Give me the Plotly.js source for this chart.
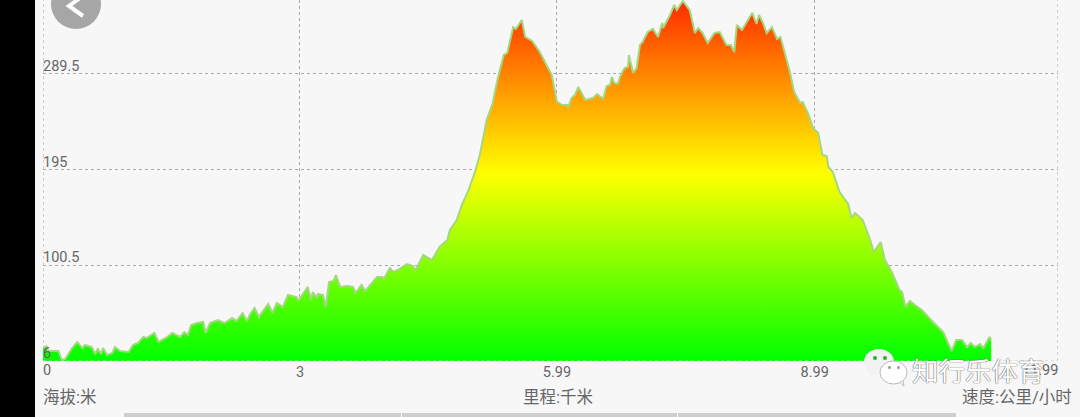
<!DOCTYPE html>
<html><head><meta charset="utf-8">
<script src="https://cdn.plot.ly/plotly-3.0.1.min.js"></script>
<style>html,body{margin:0;padding:0;background:#f7f7f7;overflow:hidden}#c{width:1080px;height:417px}</style>
</head><body><div id="c"></div>
<script>
const distanceKm=[0,0.04,0.06,0.18,0.22,0.26,0.34,0.40,0.46,0.49,0.57,0.61,0.64,0.68,0.70,0.75,0.81,0.84,0.90,1.00,1.05,1.11,1.17,1.21,1.30,1.35,1.45,1.51,1.60,1.65,1.69,1.73,1.80,1.87,1.90,1.95,2.04,2.12,2.21,2.26,2.33,2.38,2.42,2.47,2.52,2.63,2.68,2.73,2.80,2.86,2.96,2.98,3.09,3.13,3.15,3.20,3.21,3.27,3.30,3.34,3.39,3.42,3.47,3.55,3.62,3.65,3.72,3.76,3.90,3.96,3.98,4.05,4.09,4.14,4.25,4.32,4.35,4.44,4.54,4.63,4.72,4.75,4.83,4.89,4.96,5.04,5.10,5.18,5.25,5.31,5.38,5.42,5.49,5.52,5.59,5.63,5.71,5.80,5.86,5.92,5.94,6.00,6.06,6.12,6.13,6.17,6.21,6.25,6.33,6.42,6.47,6.54,6.58,6.62,6.64,6.67,6.71,6.74,6.79,6.83,6.84,6.89,6.93,6.97,7.00,7.06,7.12,7.18,7.23,7.24,7.32,7.37,7.40,7.47,7.55,7.61,7.65,7.70,7.76,7.84,7.90,7.98,8.03,8.07,8.10,8.16,8.22,8.28,8.33,8.36,8.40,8.45,8.51,8.57,8.61,8.66,8.72,8.77,8.84,8.87,8.94,8.99,9.05,9.10,9.15,9.17,9.22,9.30,9.39,9.40,9.44,9.48,9.57,9.65,9.70,9.78,9.83,9.91,10.00,10.03,10.07,10.12,10.18,10.26,10.39,10.51,10.56,10.61,10.66,10.73,10.79,10.83,10.88,10.94,10.98,11.05,11.07];
const elevationM=[18.8,20.8,15.9,15.9,7.0,8.0,18.8,24.8,18.8,21.8,19.8,12.9,17.9,12.9,18.8,11.9,13.9,19.8,15.9,14.9,21.8,23.8,29.7,28.7,33.7,24.8,29.7,33.7,29.7,34.6,31.7,41.6,43.5,44.5,33.7,43.5,46.5,43.5,48.5,45.5,53.4,45.5,52.4,58.3,49.5,62.3,53.4,63.3,59.3,71.2,69.2,65.3,79.1,66.2,74.1,68.2,72.2,71.2,59.3,84.0,85.0,90.9,79.1,80.1,79.1,73.2,81.1,75.1,89.0,89.0,87.0,97.8,93.9,95.9,101.8,99.8,95.9,110.7,105.7,118.6,125.5,135.4,145.2,160.1,172.9,191.7,209.4,244.0,260.8,285.5,308.2,310.2,335.8,333.9,342.7,326.0,322.0,311.1,301.3,290.4,288.4,261.8,258.8,258.8,255.8,265.7,268.7,276.6,263.7,265.7,269.7,264.7,277.6,278.6,286.5,280.5,279.5,287.4,295.3,296.3,308.2,290.4,295.3,318.1,321.0,330.9,333.9,326.0,339.8,334.8,347.7,357.6,352.6,361.5,352.6,329.9,334.8,329.9,320.0,329.9,330.9,318.1,318.1,311.1,337.8,332.9,340.8,349.7,338.8,347.7,340.8,329.9,335.8,324.0,326.0,311.1,291.4,271.6,260.8,261.8,248.9,236.1,231.2,209.4,208.4,197.6,192.6,172.9,162.0,161.0,147.2,152.2,145.2,127.5,113.6,123.5,105.7,93.9,76.1,74.1,59.3,65.3,61.3,56.4,44.5,34.6,24.8,15.9,26.7,26.7,19.8,23.8,19.8,22.8,18.8,29.7,26.7];
const yTicks=[6,100.5,195,289.5];
const yTickLabels=['','100.5','195','289.5'];
const yBottomLabel='6';
const xTicks=[0,3,6,9.01,11.85];
const xTickLabels=['','3','5.99','8.99',''];
const xEndLabels=['0','11.99'];
const axisNames=['海拔:米','里程:千米','速度:公里/小时'];
const watermark='知行乐体育';

const L=43,T=0,PW=1015,PH=361;
const px=p=>(p-L)/PW, py=p=>(T+PH-p)/PH;
const grey='#666666', font='Roboto, "Noto Sans CJK SC", sans-serif', gridc='#a8a8a8';
const rect=(x0,y0,x1,y1,fill,line)=>({type:'rect',xref:'paper',yref:'paper',x0:px(x0),x1:px(x1),y0:py(y1),y1:py(y0),fillcolor:fill,line:line||{width:0},layer:'above'});
const oval=(x0,y0,x1,y1,fill,line)=>Object.assign(rect(x0,y0,x1,y1,fill,line),{type:'circle'});
const path=(pts,fill,line)=>({type:'path',xref:'paper',yref:'paper',layer:'above',path:'M'+pts.map(p=>px(p[0])+','+py(p[1])).join(' L')+(fill?' Z':''),fillcolor:fill||'rgba(0,0,0,0)',line:line||{width:0}});
const note=(x,y,text,xanchor,size,extra)=>Object.assign({xref:'paper',yref:'paper',x:px(x),y:py(y),text,xanchor,yanchor:'middle',showarrow:false,borderpad:0,borderwidth:0,font:{family:font,size,color:grey}},extra||{});
const dot={color:gridc,width:1,dash:'dot'};
const edgeV=v=>({type:'line',xref:'x',yref:'paper',x0:v,x1:v,y0:0,y1:1,line:dot,layer:'below'});

const shapes=[
 edgeV(xTicks[0]),
 edgeV(xTicks[xTicks.length-1]),
 {type:'line',xref:'paper',yref:'y',x0:0,x1:1,y0:yTicks[0],y1:yTicks[0],line:{color:'#c8c8c8',width:1,dash:'dot'},layer:'above'},
 rect(0,0,35,417,'#000000'),
 oval(51,-21,101,29,'#a6a6a6'),
 path([[80,-2],[69,6],[83,16]],null,{color:'#ffffff',width:4}),
 rect(124,413,401,417,'#cfcfcf'),
 rect(402,413,677,417,'#cfcfcf'),
 rect(678,413,956,417,'#cfcfcf'),
 path([[868,370],[870,378],[878,372]],'#f2f2f2'),
 oval(864,349,894,375,'#f2f2f2'),
 oval(873,356,877,360,'#22b822'),
 oval(883,356,887,360,'#22b822'),
 path([[897,380],[904,386],[902,376]],'#ffffff',{color:'#bbbbbb',width:1}),
 oval(880,361,907,384,'#ffffff',{color:'#bbbbbb',width:1}),
 oval(888,366,891,369,'#999999'),
 oval(897,366,900,369,'#999999')
];
const annotations=[
 note(43,353,yBottomLabel,'left',14.5),
 note(43,370,xEndLabels[0],'left',14.5),
 note(1058,370,xEndLabels[1],'right',14.5),
 note(43,397,axisNames[0],'left',16.5),
 note(558,397,axisNames[1],'center',16.5),
 note(1072,397,axisNames[2],'right',16.5),
 note(912,369,watermark,'left',26.5,{font:{family:'"Noto Sans CJK SC", sans-serif',size:26.5,color:'#ffffff',shadow:'0 0 1px #555, 0 0 1px #555'}})
];
Plotly.newPlot('c',[{
 type:'scatter',mode:'lines',x:distanceKm,y:elevationM,fill:'tozeroy',
 line:{color:'rgb(165,215,130)',width:2},
 fillgradient:{type:'vertical',start:6,stop:362,colorscale:[[0,'#00ff00'],[0.52,'#ffff00'],[1,'#ff2a00']]},
 hoverinfo:'skip'
}],{
 width:1080,height:417,margin:{l:L,r:22,t:T,b:56,pad:0},
 paper_bgcolor:'#f7f7f7',plot_bgcolor:'#f7f7f7',showlegend:false,
 font:{family:font,color:grey,size:14.5},
 xaxis:{range:[0,11.85],tickmode:'array',tickvals:xTicks,ticktext:xTickLabels,showgrid:true,griddash:'dot',gridcolor:gridc,gridwidth:1,zeroline:false,showline:false,ticks:'',ticklen:0,tickfont:{size:14.5,color:grey},ticklabelstandoff:0},
 yaxis:{range:[6,362.5],tickmode:'array',tickvals:yTicks,ticktext:yTickLabels,showgrid:true,griddash:'dot',gridcolor:gridc,gridwidth:1,zeroline:false,showline:false,ticks:'',ticklabelposition:'inside',ticklabelshift:-8,ticklabelstandoff:-3,tickfont:{size:14.5,color:grey}},
 shapes,annotations
},{displayModeBar:false,staticPlot:true});
</script></body></html>
